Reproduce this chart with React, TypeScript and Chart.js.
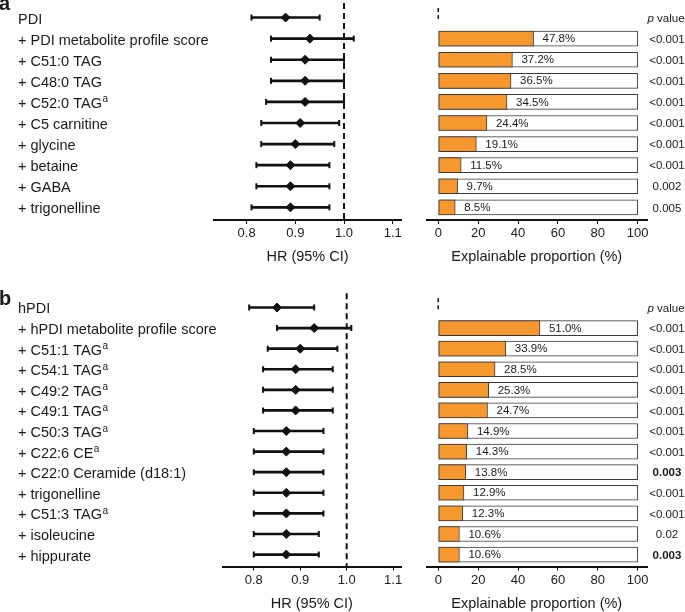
import React, { useEffect, useRef } from "react";
import { Chart, registerables } from "chart.js";

Chart.register(...registerables);

const FONT = "'Liberation Sans', Arial, Helvetica, sans-serif";
const INK = "#111111";
const TEXT = "#1a1a1a";
const ORANGE = "#F7982F";
const BAR_EDGE = "#3a3a3a";

// ---------------- Panel a data ----------------
const labelsA = [
  "PDI",
  "+ PDI metabolite profile score",
  "+ C51:0 TAG",
  "+ C48:0 TAG",
  "+ C52:0 TAG^a",
  "+ C5 carnitine",
  "+ glycine",
  "+ betaine",
  "+ GABA",
  "+ trigonelline",
];
const hrA = [0.88, 0.93, 0.92, 0.92, 0.92, 0.91, 0.9, 0.89, 0.89, 0.89];
const loA = [0.81, 0.85, 0.85, 0.85, 0.84, 0.83, 0.83, 0.82, 0.82, 0.81];
const hiA = [0.95, 1.02, 1.0, 1.0, 1.0, 0.99, 0.98, 0.97, 0.97, 0.97];
const propA = [null, 47.8, 37.2, 36.5, 34.5, 24.4, 19.1, 11.5, 9.7, 8.5];
const pA = ["", "<0.001", "<0.001", "<0.001", "<0.001", "<0.001", "<0.001", "<0.001", "0.002", "0.005"];
const pBoldA = [false, false, false, false, false, false, false, false, false, false];

// ---------------- Panel b data ----------------
const labelsB = [
  "hPDI",
  "+ hPDI metabolite profile score",
  "+ C51:1 TAG^a",
  "+ C54:1 TAG^a",
  "+ C49:2 TAG^a",
  "+ C49:1 TAG^a",
  "+ C50:3 TAG^a",
  "+ C22:6 CE^a",
  "+ C22:0 Ceramide (d18:1)",
  "+ trigonelline",
  "+ C51:3 TAG^a",
  "+ isoleucine",
  "+ hippurate",
];
const hrB = [0.85, 0.93, 0.9, 0.89, 0.89, 0.89, 0.87, 0.87, 0.87, 0.87, 0.87, 0.87, 0.87];
const loB = [0.79, 0.85, 0.83, 0.82, 0.82, 0.82, 0.8, 0.8, 0.8, 0.8, 0.8, 0.8, 0.8];
const hiB = [0.93, 1.01, 0.98, 0.97, 0.97, 0.97, 0.95, 0.95, 0.95, 0.95, 0.95, 0.94, 0.94];
const propB = [null, 51.0, 33.9, 28.5, 25.3, 24.7, 14.9, 14.3, 13.8, 12.9, 12.3, 10.6, 10.6];
const pB = ["", "<0.001", "<0.001", "<0.001", "<0.001", "<0.001", "<0.001", "<0.001", "0.003", "<0.001", "<0.001", "0.02", "0.003"];
const pBoldB = [false, false, false, false, false, false, false, false, true, false, false, false, true];

// ---------------- axes ----------------
const hrTicks = [0.8, 0.9, 1.0, 1.1];
const hrRange = [0.733, 1.117];
const hrRef = 1.0;
const propTicks = [0, 20, 40, 60, 80, 100];
const propRange = [-5.9, 104.7];
const propFull = 100;
const hrTitle = "HR (95% CI)";
const propTitle = "Explainable proportion (%)";
const pHeader = "value";

// ---------------- layout ----------------
const W = 685;
const H = 612;
const AXIS_H = 48;
type Area = { left: number; right: number; top: number; bottom: number };
const forestAreaA: Area = { left: 214, right: 401, top: 7, bottom: 220 };
const forestAreaB: Area = { left: 222.7, right: 401, top: 297.2, bottom: 566.5 };
const barAreaA: Area = { left: 426.5, right: 647, top: 7, bottom: 220 };
const barAreaB: Area = { left: 426.5, right: 647, top: 297.2, bottom: 566.5 };
const rowRangeA = [-0.5, 9.6];
const rowRangeB = [-0.5, 12.58];

function pad(a: Area) {
  return { left: a.left, right: W - a.right, top: a.top, bottom: H - a.bottom - AXIS_H };
}

function xAxis(range: number[], ticks: number[], title: string, fmt: (v: number) => string) {
  return {
    type: "linear",
    min: range[0],
    max: range[1],
    offset: false,
    afterBuildTicks: (s: any) => {
      s.ticks = ticks.map((v) => ({ value: v }));
    },
    afterFit: (s: any) => {
      s.height = AXIS_H;
    },
    border: { display: true, color: INK, width: 2 },
    grid: { display: true, drawOnChartArea: false, drawTicks: true, tickLength: 4, color: INK, lineWidth: 1 },
    ticks: {
      font: { size: 13, family: FONT },
      color: TEXT,
      padding: 2,
      maxRotation: 0,
      autoSkip: false,
      callback: (v: any) => fmt(Number(v)),
    },
    title: {
      display: true,
      text: title,
      font: { size: 14.5, family: FONT },
      color: TEXT,
      padding: { top: 0, bottom: 2 },
    },
  };
}

function forestConfig(
  labels: string[],
  hr: number[],
  lo: number[],
  hi: number[],
  area: Area,
  rows: number[],
  letter: string,
  letterY: number
) {
  const rowLabels = {
    id: "rowLabels",
    afterDraw(chart: any) {
      const ctx = chart.ctx;
      const ys = chart.scales.y;
      ctx.save();
      ctx.fillStyle = TEXT;
      ctx.textAlign = "left";
      ctx.textBaseline = "alphabetic";
      labels.forEach((lab, i) => {
        const y = ys.getPixelForValue(i) + 6;
        const [main, sup] = lab.split("^");
        ctx.font = `14.5px ${FONT}`;
        ctx.fillText(main, 18, y);
        if (sup) {
          const w = ctx.measureText(main).width;
          ctx.font = `10px ${FONT}`;
          ctx.fillText(sup, 18 + w + 0.5, y - 5.5);
        }
      });
      ctx.font = `bold 20px ${FONT}`;
      ctx.fillText(letter, -1, letterY);
      ctx.restore();
    },
  };
  const refLine = {
    id: "refLine",
    beforeDatasetsDraw(chart: any) {
      const { ctx, chartArea } = chart;
      const x = chart.scales.x.getPixelForValue(hrRef);
      ctx.save();
      ctx.strokeStyle = INK;
      ctx.lineWidth = 2;
      ctx.setLineDash([6, 4]);
      ctx.beginPath();
      ctx.moveTo(x, chartArea.top - 4);
      ctx.lineTo(x, chartArea.bottom);
      ctx.stroke();
      ctx.restore();
    },
  };
  return {
    type: "bar",
    data: {
      datasets: [
        {
          type: "scatter",
          data: hr.map((v, i) => ({ x: v, y: i })),
          pointStyle: "rectRot",
          pointRadius: 4.5,
          pointBackgroundColor: INK,
          pointBorderColor: INK,
          pointBorderWidth: 1,
        },
        {
          type: "scatter",
          data: lo.map((v, i) => ({ x: v, y: i })),
          pointStyle: "line",
          pointRotation: 90,
          pointRadius: 3,
          pointBorderColor: INK,
          pointBorderWidth: 2,
        },
        {
          type: "scatter",
          data: hi.map((v, i) => ({ x: v, y: i })),
          pointStyle: "line",
          pointRotation: 90,
          pointRadius: 3,
          pointBorderColor: INK,
          pointBorderWidth: 2,
        },
        {
          type: "bar",
          data: lo.map((v, i) => ({ x: [v, hi[i]], y: i })),
          backgroundColor: INK,
          borderWidth: 0,
          barThickness: 2,
          grouped: false,
        },
      ],
    },
    options: {
      responsive: false,
      animation: false,
      events: [],
      indexAxis: "y",
      layout: { padding: pad(area) },
      plugins: { legend: { display: false }, tooltip: { enabled: false }, title: { display: false } },
      scales: {
        y: { type: "linear", min: rows[0], max: rows[1], reverse: true, display: false, offset: false },
        x: xAxis(hrRange, hrTicks, hrTitle, (v) => v.toFixed(1)),
      },
    },
    plugins: [rowLabels, refLine],
  };
}

function barConfig(props: (number | null)[], pvals: string[], pbold: boolean[], area: Area, rows: number[]) {
  const valued = props.map((v, i) => ({ v, i })).filter((d) => d.v !== null) as { v: number; i: number }[];
  const annot = {
    id: "annot",
    beforeDatasetsDraw(chart: any) {
      const { ctx, chartArea } = chart;
      const x = chart.scales.x.getPixelForValue(0);
      const y0 = chart.scales.y.getPixelForValue(0);
      ctx.save();
      ctx.strokeStyle = INK;
      ctx.lineWidth = 1.5;
      ctx.setLineDash([4, 3]);
      ctx.beginPath();
      ctx.moveTo(x, chartArea.top + 1);
      ctx.lineTo(x, y0 + 3);
      ctx.stroke();
      ctx.restore();
    },
    afterDraw(chart: any) {
      const ctx = chart.ctx;
      const xs = chart.scales.x;
      const ys = chart.scales.y;
      ctx.save();
      ctx.fillStyle = TEXT;
      ctx.textBaseline = "middle";
      ctx.textAlign = "left";
      ctx.font = `11.5px ${FONT}`;
      valued.forEach(({ v, i }) => {
        ctx.fillText(v.toFixed(1) + "%", xs.getPixelForValue(v) + 9, ys.getPixelForValue(i) + 0.5);
      });
      // p value header
      const hy = ys.getPixelForValue(0) + 1;
      ctx.font = `italic 11.5px ${FONT}`;
      const wp = ctx.measureText("p").width;
      ctx.font = `11.5px ${FONT}`;
      const wv = ctx.measureText(" " + pHeader).width;
      const cx = 666;
      const sx = cx - (wp + wv) / 2;
      ctx.font = `italic 11.5px ${FONT}`;
      ctx.fillText("p", sx, hy);
      ctx.font = `11.5px ${FONT}`;
      ctx.fillText(" " + pHeader, sx + wp, hy);
      ctx.textAlign = "center";
      pvals.forEach((p, i) => {
        if (!p) return;
        ctx.font = `${pbold[i] ? "bold " : ""}11.5px ${FONT}`;
        ctx.fillText(p, 667, ys.getPixelForValue(i) + 1);
      });
      ctx.restore();
    },
  };
  return {
    type: "bar",
    data: {
      datasets: [
        {
          data: valued.map(({ v, i }) => ({ x: [0, v], y: i })),
          backgroundColor: ORANGE,
          borderColor: BAR_EDGE,
          borderWidth: 1,
          borderSkipped: false,
          barThickness: 15,
          grouped: false,
        },
        {
          data: valued.map(({ i }) => ({ x: [0, propFull], y: i })),
          backgroundColor: "#ffffff",
          borderColor: BAR_EDGE,
          borderWidth: 1,
          borderSkipped: false,
          barThickness: 15,
          grouped: false,
        },
      ],
    },
    options: {
      responsive: false,
      animation: false,
      events: [],
      indexAxis: "y",
      layout: { padding: pad(area) },
      plugins: { legend: { display: false }, tooltip: { enabled: false }, title: { display: false } },
      scales: {
        y: { type: "linear", min: rows[0], max: rows[1], reverse: true, display: false, offset: false },
        x: xAxis(propRange, propTicks, propTitle, (v) => String(Math.round(v))),
      },
    },
    plugins: [annot],
  };
}

export default function App() {
  const r1 = useRef<HTMLCanvasElement>(null);
  const r2 = useRef<HTMLCanvasElement>(null);
  const r3 = useRef<HTMLCanvasElement>(null);
  const r4 = useRef<HTMLCanvasElement>(null);

  useEffect(() => {
    Chart.defaults.font.family = FONT;
    const cfgs: any[] = [
      forestConfig(labelsA, hrA, loA, hiA, forestAreaA, rowRangeA, "a", 9.5),
      barConfig(propA, pA, pBoldA, barAreaA, rowRangeA),
      forestConfig(labelsB, hrB, loB, hiB, forestAreaB, rowRangeB, "b", 305),
      barConfig(propB, pB, pBoldB, barAreaB, rowRangeB),
    ];
    const refs = [r1, r2, r3, r4];
    const charts = cfgs.map((c, k) => new Chart(refs[k].current as HTMLCanvasElement, c));
    return () => charts.forEach((c) => c.destroy());
  }, []);

  const cs: React.CSSProperties = { position: "absolute", left: 0, top: 0 };
  return (
    <div style={{ position: "absolute", left: 0, top: 0, width: W, height: H, background: "#ffffff" }}>
      <canvas ref={r1} width={W} height={H} style={cs} />
      <canvas ref={r2} width={W} height={H} style={cs} />
      <canvas ref={r3} width={W} height={H} style={cs} />
      <canvas ref={r4} width={W} height={H} style={cs} />
    </div>
  );
}
